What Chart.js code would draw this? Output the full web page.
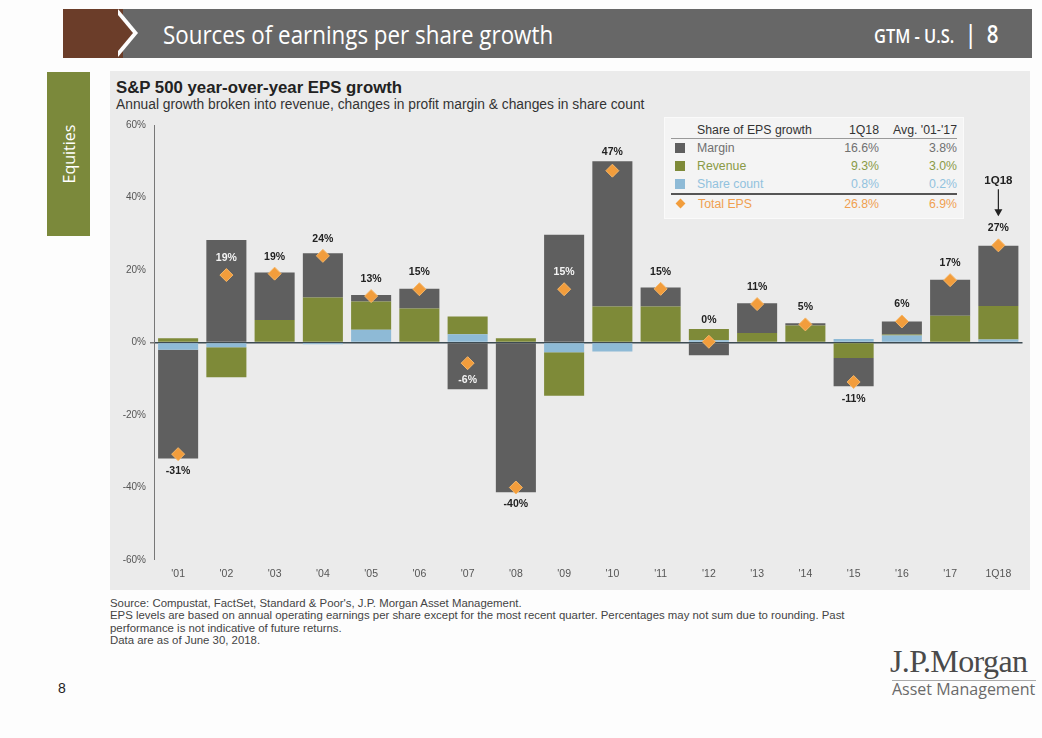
<!DOCTYPE html>
<html>
<head>
<title>Sources of earnings per share growth</title>
<script src="https://cdn.jsdelivr.net/npm/chart.js"></script>
<style>
  body { margin: 0; background: #fdfdfd; font-family: "Liberation Sans", Arial, sans-serif; }
  #page { position: relative; width: 1042px; height: 738px; overflow: hidden; }
  #banner { position: absolute; left: 63px; top: 9px; width: 969px; height: 49px; background: #676767; }
  #brown { position: absolute; left: 63px; top: 9px; width: 60px; height: 49px; background: #6b3d29; }
  #chev { position: absolute; left: 118px; top: 9px; width: 0; height: 0;
          border-top: 24.5px solid transparent; border-bottom: 24.5px solid transparent; border-left: 20px solid #fdfdfd; }
  #chev2 { position: absolute; left: 113px; top: 9px; width: 0; height: 0;
          border-top: 24.5px solid transparent; border-bottom: 24.5px solid transparent; border-left: 20px solid #6b3d29; }
  #bannerTitle { position: absolute; left: 163px; top: 16px; color: #fff; font-family: "Open Sans", sans-serif; font-size: 26px;
                 transform: scaleX(0.86); transform-origin: left top; white-space: nowrap; }
  #bannerRight { position: absolute; left: 874px; top: 16px; color: #fff; font-family: "Open Sans", sans-serif; font-size: 25px; font-weight: 600;
                 transform: scaleX(0.82); transform-origin: left top; white-space: nowrap; }
  #bannerRight small { font-size: 20px; }
  #tab { position: absolute; left: 47px; top: 72px; width: 43px; height: 164px; background: #7b893b; }
  #tab span { position: absolute; left: 50%; top: 50%; transform: translate(-50%, -50%) rotate(-90deg); color: #fff; font-family: "Open Sans", sans-serif; font-size: 16px; }
  #panel { position: absolute; left: 110px; top: 71px; width: 920px; height: 519px; background: #ebebeb; }
  #title { position: absolute; left: 116px; top: 78px; font-weight: bold; font-size: 16.8px; color: #222; }
  #subtitle { position: absolute; left: 116px; top: 97px; font-size: 13.8px; color: #333; }
  #chartBox { position: absolute; left: 110px; top: 115px; width: 920px; height: 475px; }
  #legendBox { position: absolute; left: 664px; top: 117px; width: 298px; height: 100px; background: #f4f4f4; border: 1px solid #fafafa; }
  #legendBox table { position: absolute; left: 6px; top: 4px; width: 286px; border-collapse: collapse; font-size: 12.3px; table-layout: fixed; }
  #legendBox td { padding: 0; height: 18px; white-space: nowrap; }
  #legendBox td.v { text-align: right; }
  #legendBox tr.head td { border-bottom: 1px solid #999; color: #333; height: 16px; }
  #legendBox tr.total td { border-top: 2px solid #555; }
  .sw { display: inline-block; width: 10px; height: 10px; margin: 0 12px 0 4px; vertical-align: -1px; }
  #footer { position: absolute; left: 110px; top: 597px; font-size: 11.4px; line-height: 12.3px; color: #444; }
  #pageNo { position: absolute; left: 58px; top: 680px; font-size: 14px; color: #222; }
  #logo1 { position: absolute; left: 890px; top: 643px; font-family: "Liberation Serif", serif; font-size: 32px; color: #4a4a4a; letter-spacing: -0.6px; }
  #logoLine { position: absolute; left: 892px; top: 680px; width: 144px; height: 1px; background: #aaa; }
  #logo2 { position: absolute; left: 892px; top: 678px; font-family: "Open Sans", sans-serif; font-size: 16px; color: #6a6a6a; }
</style>
</head>
<body>
<div id="page">
  <div id="banner"></div>
  <div id="brown"></div>
  <div id="chev"></div>
  <div id="chev2"></div>
  <div id="bannerTitle">Sources of earnings per share growth</div>
  <div id="bannerRight"><small>GTM - U.S.</small> &nbsp;|&nbsp; 8</div>
  <div id="tab"><span>Equities</span></div>
  <div id="panel"></div>
  <div id="title">S&amp;P 500 year-over-year EPS growth</div>
  <div id="subtitle">Annual growth broken into revenue, changes in profit margin &amp; changes in share count</div>
  <div id="chartBox"><canvas id="myChart" width="920" height="475"></canvas></div>
  <div id="legendBox"><table id="legendTable"></table></div>
  <div id="footer">Source: Compustat, FactSet, Standard &amp; Poor's, J.P. Morgan Asset Management.<br>
EPS levels are based on annual operating earnings per share except for the most recent quarter. Percentages may not sum due to rounding. Past<br>
performance is not indicative of future returns.<br>
Data are as of June 30, 2018.</div>
  <div id="pageNo">8</div>
  <div id="logo1">J.P.Morgan</div>
  <div id="logoLine"></div>
  <div id="logo2">Asset Management</div>
</div>

<script type="text/javascript">
  // categories
  var years = ["'01", "'02", "'03", "'04", "'05", "'06", "'07", "'08", "'09", "'10",
               "'11", "'12", "'13", "'14", "'15", "'16", "'17", "1Q18"];

  // contributions, % points
  var margin     = [-30.0, 28.3, 13.1, 12.2, 1.8, 5.4, -12.9, -41.3, 29.7, 40.1, 5.3, -3.5, 8.2, 0.6, -7.8, 3.6, 9.9, 16.6];
  var revenue    = [1.2, -8.3, 6.2, 12.4, 7.8, 9.4, 4.9, 1.2, -12.0, 9.9, 9.9, 3.1, 2.6, 4.7, -4.3, 0.3, 7.4, 9.3];
  var shareCount = [-2.0, -1.3, 0.0, -0.5, 3.5, 0.0, 2.3, 0.0, -2.7, -2.5, 0.0, 0.6, 0.0, 0.0, 1.0, 1.9, 0.0, 0.8];
  var totalEps   = [-30.8, 18.6, 19.0, 23.9, 12.8, 14.7, -5.7, -40.0, 14.7, 47.4, 14.8, 0.2, 10.6, 5.0, -10.9, 5.8, 17.2, 26.8];

  // legend table
  var legendNames = ['Margin', 'Revenue', 'Share count', 'Total EPS'];
  var legend1Q18  = ['16.6%', '9.3%', '0.8%', '26.8%'];
  var legendAvg   = ['3.8%', '3.0%', '0.2%', '6.9%'];

  var cMargin = '#5f5f5f', cRevenue = '#7e8a38', cShare = '#8ebad6', cTotal = '#f29d3c';
  var textCols = ['#707070', '#8a9a46', '#92c2de', '#f0a050'];
  var swCols = [cMargin, cRevenue, cShare, cTotal];

  var tbl = document.getElementById('legendTable');
  var html = '<colgroup><col style="width:150px"><col style="width:58px"><col style="width:78px"></colgroup>' +
    '<tr class="head"><td style="padding-left:26px">Share of EPS growth</td><td class="v">1Q18</td><td class="v">Avg. \'01-\'17</td></tr>';
  for (var i = 0; i < legendNames.length; i++) {
    var sw = i === 3
      ? '<span class="sw" style="width:7px;height:7px;background:' + swCols[i] + ';transform:rotate(45deg);margin:0 14px 0 6px;vertical-align:1px"></span>'
      : '<span class="sw" style="background:' + swCols[i] + '"></span>';
    html += '<tr' + (i === 3 ? ' class="total"' : '') + ' style="color:' + textCols[i] + '">' +
      '<td>' + sw + legendNames[i] + '</td><td class="v">' + legend1Q18[i] + '</td><td class="v">' + legendAvg[i] + '</td></tr>';
  }
  tbl.innerHTML = html;

  // total labels above / below the diamonds
  var totalLabels = {
    id: 'totalLabels',
    afterDatasetsDraw: function(chart) {
      var ctx = chart.ctx;
      var y = chart.scales.y;
      var meta = chart.getDatasetMeta(3);
      ctx.save();
      ctx.textAlign = 'center';
      ctx.textBaseline = 'middle';
      for (var i = 0; i < totalEps.length; i++) {
        var t = totalEps[i];
        var px = meta.data[i].x;
        var py = y.getPixelForValue(t);
        var pos = 0, neg = 0;
        [margin[i], revenue[i], shareCount[i]].forEach(function(v) { if (v > 0) pos += v; else neg += v; });
        var ly, col = '#222';
        if (t >= 0) {
          var top = y.getPixelForValue(pos);
          ly = py - 17;
          if (ly > top + 6) col = '#f4f4f4';
          else ly = Math.min(ly, top - 9);
        } else {
          var bot = y.getPixelForValue(neg);
          ly = py + 17;
          if (ly < bot - 6) col = '#f4f4f4';
          else ly = Math.max(ly, bot + 9);
        }
        ctx.font = 'bold 10.5px "Liberation Sans", Arial';
        ctx.fillStyle = col;
        ctx.fillText(Math.round(t) + '%', px, ly);
        if (i === totalEps.length - 1) {
          ctx.fillStyle = '#222';
          ctx.font = 'bold 11.5px "Liberation Sans", Arial';
          ctx.fillText(years[i], px, ly - 48);
          ctx.strokeStyle = '#222';
          ctx.lineWidth = 1.2;
          ctx.beginPath();
          ctx.moveTo(px, ly - 39);
          ctx.lineTo(px, ly - 13);
          ctx.stroke();
          ctx.beginPath();
          ctx.moveTo(px - 4, ly - 19);
          ctx.lineTo(px, ly - 12);
          ctx.lineTo(px + 4, ly - 19);
          ctx.closePath();
          ctx.fill();
        }
      }
      ctx.restore();
    }
  };

  const ctx = document.getElementById('myChart').getContext('2d');
  new Chart(ctx, {
    type: 'bar',
    data: {
      labels: years,
      datasets: [
        { label: 'Share count', data: shareCount, backgroundColor: cShare, stack: 'eps', order: 2 },
        { label: 'Revenue', data: revenue, backgroundColor: cRevenue, stack: 'eps', order: 2 },
        { label: 'Margin', data: margin, backgroundColor: cMargin, stack: 'eps', order: 2 },
        { type: 'line', label: 'Total EPS', data: totalEps, stack: 'total', order: 0,
          showLine: false, pointStyle: 'rectRot', pointRadius: 6.5,
          backgroundColor: cTotal, borderColor: '#f6b667', borderWidth: 1 }
      ]
    },
    options: {
      responsive: false,
      animation: false,
      devicePixelRatio: 1,
      layout: { padding: { top: 8, right: 6, bottom: 2, left: 0 } },
      datasets: { bar: { categoryPercentage: 1, barPercentage: 0.83 } },
      plugins: { legend: { display: false }, tooltip: { enabled: false } },
      scales: {
        x: {
          stacked: true,
          afterFit: function(s) { s.height = 28; },
          grid: { display: false, drawTicks: false },
          border: { display: false },
          ticks: { color: '#555', padding: 8, font: { size: 10.5, family: '"Liberation Sans", Arial' } }
        },
        y: {
          stacked: true,
          min: -60,
          max: 60,
          z: 1,
          afterFit: function(s) { s.width = 44; },
          grid: {
            color: function(c) { return c.tick && c.tick.value === 0 ? '#3d4b52' : 'rgba(0,0,0,0)'; },
            lineWidth: function(c) { return c.tick && c.tick.value === 0 ? 1.5 : 0; },
            tickColor: '#777',
            tickLength: 4
          },
          border: { color: '#777', width: 1 },
          ticks: {
            stepSize: 20,
            color: '#555',
            padding: 4,
            font: { size: 10, family: '"Liberation Sans", Arial' },
            callback: function(v) { return v + '%'; }
          }
        }
      }
    },
    plugins: [totalLabels]
  });
</script>
</body>
</html>
